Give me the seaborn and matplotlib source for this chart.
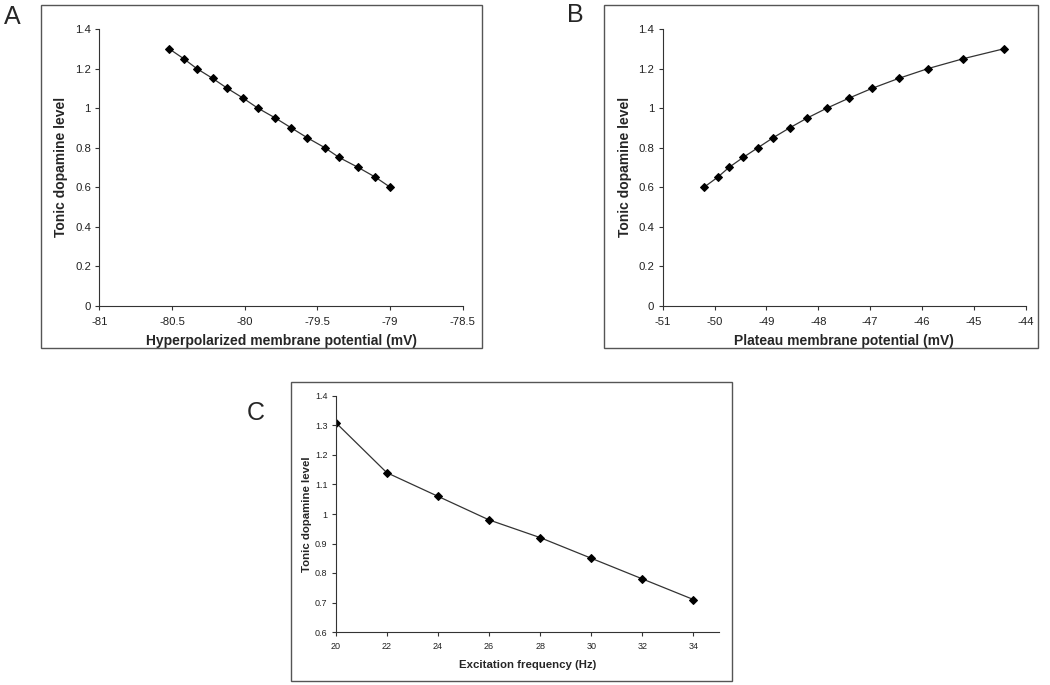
import numpy as np
import pandas as pd
import matplotlib
matplotlib.use('Agg')
import matplotlib.pyplot as plt
from matplotlib.patches import Rectangle
import seaborn as sns

# Panel A: hyperpolarized membrane potential vs tonic dopamine
hyper_mv = [-80.52, -80.42, -80.33, -80.22, -80.12, -80.01, -79.91, -79.79,
            -79.68, -79.57, -79.45, -79.35, -79.22, -79.10, -79.00]
hyper_da = [1.30, 1.25, 1.20, 1.15, 1.10, 1.05, 1.00, 0.95,
            0.90, 0.85, 0.80, 0.75, 0.70, 0.65, 0.60]

# Panel B: plateau membrane potential vs tonic dopamine
plateau_mv = [-50.20, -49.94, -49.72, -49.45, -49.16, -48.87, -48.55, -48.21,
              -47.83, -47.41, -46.96, -46.45, -45.88, -45.20, -44.42]
plateau_da = [0.60, 0.65, 0.70, 0.75, 0.80, 0.85, 0.90, 0.95,
              1.00, 1.05, 1.10, 1.15, 1.20, 1.25, 1.30]

# Panel C: excitation frequency vs tonic dopamine
freq_hz = [20, 22, 24, 26, 28, 30, 32, 34]
freq_da = [1.31, 1.14, 1.06, 0.98, 0.92, 0.85, 0.78, 0.71]

ylabel = 'Tonic dopamine level'

sns.set_style('white')
plt.rcParams['font.family'] = ['Liberation Sans', 'DejaVu Sans']

W, H = 1050, 685
fig = plt.figure(figsize=(W / 100, H / 100), dpi=100)


def px_axes(left, top, right, bottom):
    return fig.add_axes([left / W, 1 - bottom / H, (right - left) / W, (bottom - top) / H])


def frame(left, top, right, bottom):
    fig.patches.append(Rectangle((left / W, 1 - bottom / H), (right - left) / W, (bottom - top) / H,
                                 transform=fig.transFigure, fill=False, edgecolor='#555555', lw=1.0))


def style_axes(ax, tick_size, label_size, xpad, xlabpad, ylabpad):
    for side in ['top', 'right']:
        ax.spines[side].set_visible(False)
    for side in ['left', 'bottom']:
        ax.spines[side].set_color('#333333')
        ax.spines[side].set_linewidth(0.8)
    ax.tick_params(direction='out', length=3, width=0.8, color='#333333',
                   labelsize=tick_size, labelcolor='#222222', left=True, bottom=True, pad=3)
    ax.tick_params(axis='x', pad=xpad)
    ax.xaxis.labelpad = xlabpad
    ax.yaxis.labelpad = ylabpad
    ax.xaxis.label.set_size(label_size)
    ax.yaxis.label.set_size(label_size)
    ax.xaxis.label.set_weight('bold')
    ax.yaxis.label.set_weight('bold')


def fmt(v):
    return f'{v:g}'


def draw(ax, x, y):
    df = pd.DataFrame({'x': x, 'y': y})
    sns.lineplot(data=df, x='x', y='y', ax=ax, color='#333333', lw=0.9,
                 marker='D', markersize=3.8, markerfacecolor='black', markeredgecolor='black')


# Panel A
frame(41, 5, 482, 348)
axA = px_axes(99.3, 29, 462.7, 305.7)
draw(axA, hyper_mv, hyper_da)
axA.set_xlim(-81, -78.5)
axA.set_ylim(0, 1.4)
axA.set_xticks(np.arange(-81, -78.49, 0.5))
axA.set_xticklabels([fmt(v) for v in np.round(np.arange(-81, -78.49, 0.5), 1)])
axA.set_yticks(np.round(np.arange(0, 1.41, 0.2), 1))
axA.set_yticklabels([fmt(v) for v in np.round(np.arange(0, 1.41, 0.2), 1)])
axA.set_xlabel('Hyperpolarized membrane potential (mV)')
axA.set_ylabel(ylabel)
style_axes(axA, 8.2, 10, 5, 5, 5)
fig.text(12 / W, 1 - 17 / H, 'A', fontsize=18, va='center', ha='center')

# Panel B
frame(604, 5, 1038, 348)
axB = px_axes(662.7, 29, 1025.7, 305.7)
draw(axB, plateau_mv, plateau_da)
axB.set_xlim(-51, -44)
axB.set_ylim(0, 1.4)
axB.set_xticks(np.arange(-51, -43.9, 1))
axB.set_xticklabels([fmt(v) for v in np.arange(-51, -43.9, 1)])
axB.set_yticks(np.round(np.arange(0, 1.41, 0.2), 1))
axB.set_yticklabels([fmt(v) for v in np.round(np.arange(0, 1.41, 0.2), 1)])
axB.set_xlabel('Plateau membrane potential (mV)')
axB.set_ylabel(ylabel)
style_axes(axB, 8.2, 10, 5, 5, 5)
fig.text(575 / W, 1 - 15 / H, 'B', fontsize=18, va='center', ha='center')

# Panel C
frame(291, 382, 732, 681)
axC = px_axes(335.7, 396, 719, 632)
draw(axC, freq_hz, freq_da)
axC.set_xlim(20, 35)
axC.set_ylim(0.6, 1.4)
axC.set_xticks(freq_hz)
axC.set_xticklabels([str(v) for v in freq_hz])
axC.set_yticks(np.round(np.arange(0.6, 1.41, 0.1), 1))
axC.set_yticklabels([fmt(v) for v in np.round(np.arange(0.6, 1.41, 0.1), 1)])
axC.set_xlabel('Excitation frequency (Hz)')
axC.set_ylabel(ylabel)
style_axes(axC, 6.5, 8.2, 4, 7, 2)
fig.text(256 / W, 1 - 413 / H, 'C', fontsize=18, va='center', ha='center')

fig.savefig('out.png', dpi=100)
